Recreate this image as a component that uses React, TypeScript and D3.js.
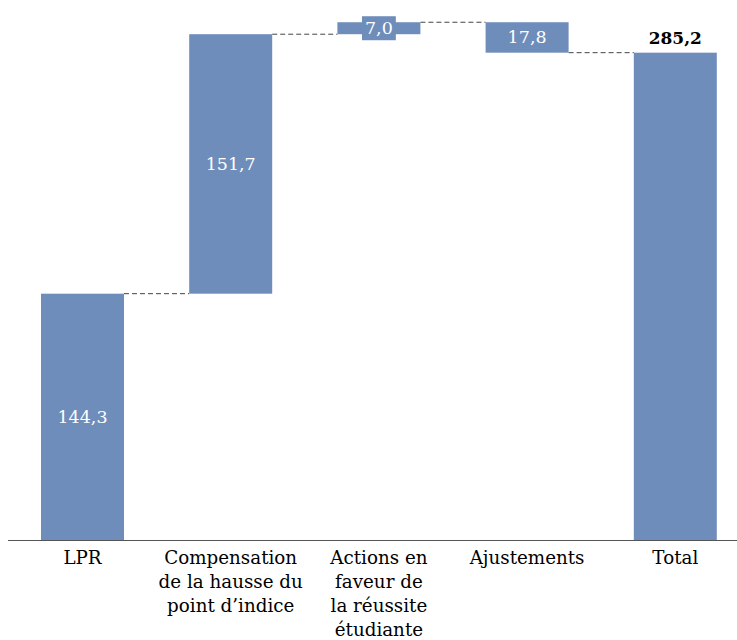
import React, { useEffect, useRef } from "react";
import * as d3 from "d3";

const categories: string[][] = [
  ["LPR"],
  ["Compensation", "de la hausse du", "point d’indice"],
  ["Actions en", "faveur de", "la réussite", "étudiante"],
  ["Ajustements"],
  ["Total"],
];
const deltas = [144.3, 151.7, 7.0, -17.8];
const totalValue = 285.2;
const valueLabels = ["144,3", "151,7", "7,0", "17,8", "285,2"];

const W = 737;
const H = 640;
const FONT = "'DejaVu Serif', serif";
const BAR = "#6e8dba";

export default function App() {
  const ref = useRef<SVGSVGElement | null>(null);

  useEffect(() => {
    const svg = d3.select(ref.current);
    svg.selectAll("*").remove();

    const x = d3
      .scaleBand<number>()
      .domain(d3.range(categories.length))
      .range([8.4, 749.4])
      .paddingInner(0.44)
      .paddingOuter(0.22);
    const y = d3.scaleLinear().domain([0, 316]).range([540.5, 0]);

    type Seg = { i: number; start: number; end: number; label: string; total: boolean };
    const segs: Seg[] = [];
    let acc = 0;
    deltas.forEach((d, i) => {
      segs.push({ i, start: acc, end: acc + d, label: valueLabels[i], total: false });
      acc += d;
    });
    segs.push({ i: deltas.length, start: 0, end: totalValue, label: valueLabels[deltas.length], total: true });

    const g = svg.append("g");
    for (let k = 0; k < segs.length - 1; k++) {
      const a = segs[k];
      const b = segs[k + 1];
      const lvl = a.end;
      g.append("line")
        .attr("x1", x(a.i)! + x.bandwidth())
        .attr("x2", x(b.i)!)
        .attr("y1", y(lvl))
        .attr("y2", y(lvl))
        .attr("stroke", "#444")
        .attr("stroke-width", 1)
        .attr("stroke-dasharray", "5,3");
    }

    g.selectAll("rect.bar")
      .data(segs)
      .join("rect")
      .attr("class", "bar")
      .attr("x", (d) => x(d.i)!)
      .attr("width", x.bandwidth())
      .attr("y", (d) => y(Math.max(d.start, d.end)))
      .attr("height", (d) => Math.abs(y(d.start) - y(d.end)))
      .attr("fill", BAR);

    segs.forEach((d) => {
      const cx = x(d.i)! + x.bandwidth() / 2;
      if (d.total) {
        g.append("text")
          .attr("x", cx)
          .attr("y", y(d.end) - 9)
          .attr("text-anchor", "middle")
          .attr("font-family", FONT)
          .attr("font-size", 17)
          .attr("font-weight", "bold")
          .attr("fill", "#000")
          .text(d.label);
        return;
      }
      const cy = (y(d.start) + y(d.end)) / 2;
      const bg = g.append("rect").attr("fill", BAR);
      const t = g
        .append("text")
        .attr("x", cx)
        .attr("y", cy + 6)
        .attr("text-anchor", "middle")
        .attr("font-family", FONT)
        .attr("font-size", 17.5)
        .attr("fill", "#fff")
        .text(d.label);
      const tw = (t.node() as SVGTextElement).getComputedTextLength();
      bg.attr("x", cx - tw / 2 - 3)
        .attr("width", tw + 6)
        .attr("y", cy - 12)
        .attr("height", 24);
    });

    g.append("line")
      .attr("x1", 8)
      .attr("x2", W)
      .attr("y1", y(0))
      .attr("y2", y(0))
      .attr("stroke", "#555")
      .attr("stroke-width", 1.2);

    categories.forEach((lines, i) => {
      const cx = x(i)! + x.bandwidth() / 2;
      const t = g
        .append("text")
        .attr("text-anchor", "middle")
        .attr("font-family", FONT)
        .attr("font-size", 18.3)
        .attr("fill", "#000");
      lines.forEach((ln, j) => {
        t.append("tspan").attr("x", cx).attr("y", 564 + j * 24.1).text(ln);
      });
    });
  }, []);

  return (
    <svg
      ref={ref}
      width={W}
      height={H}
      style={{ position: "absolute", left: 0, top: 0, display: "block", background: "#fff" }}
    />
  );
}
